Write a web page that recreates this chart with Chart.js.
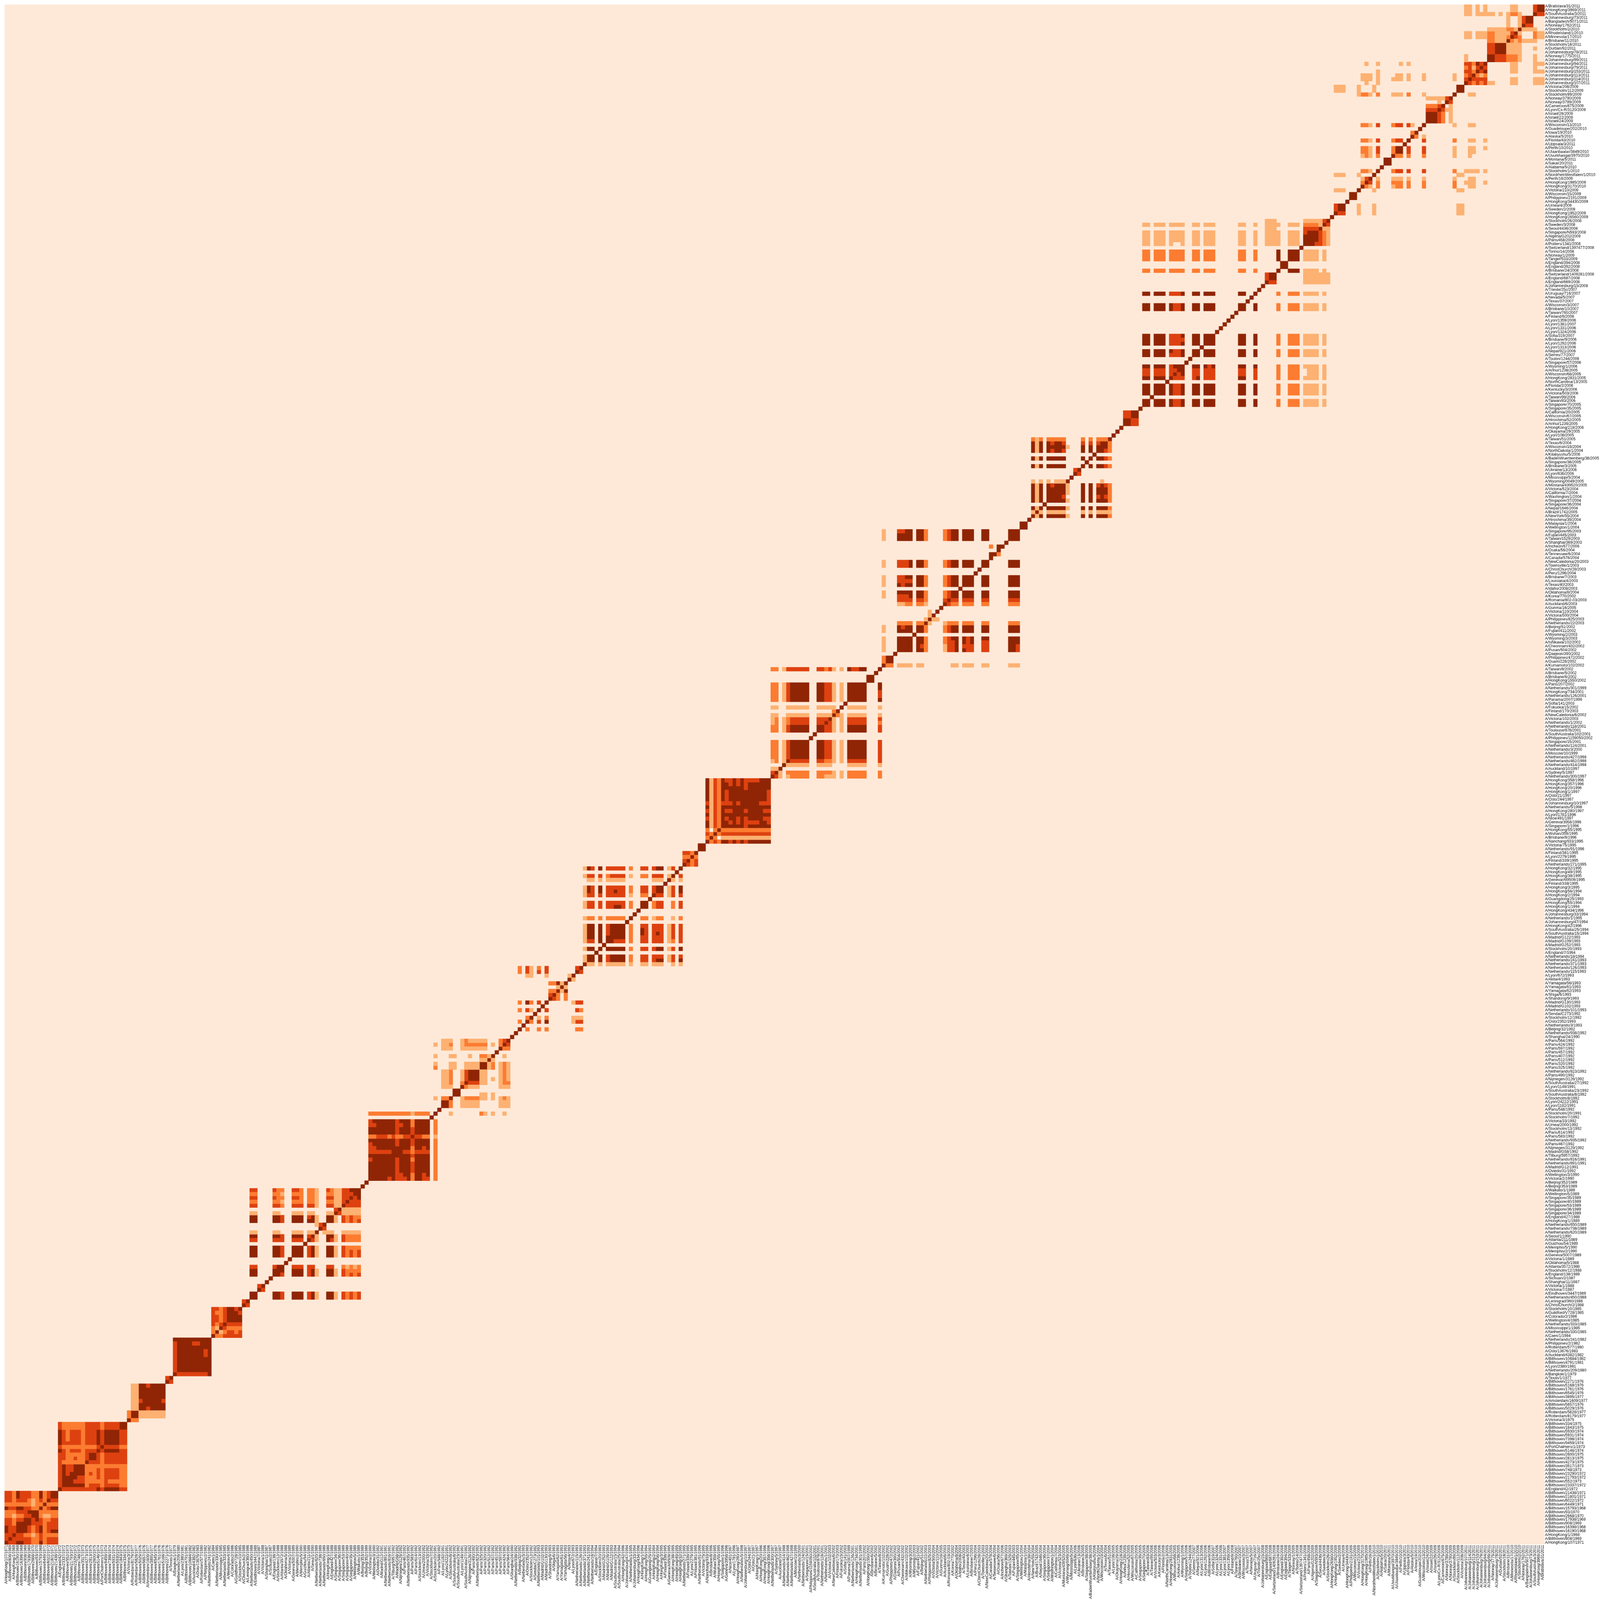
<!DOCTYPE html>
<html>
<head>
<meta charset="utf-8">
<title>Strain heatmap</title>
<script src="https://cdn.jsdelivr.net/npm/chart.js@4"></script>
<style>
    html, body { margin: 0; padding: 0; background: #ffffff; overflow: hidden; }
    canvas { display: block; }
</style>
</head>
<body>
<canvas id="heatmap" width="5000" height="5000"></canvas>
<script>
// strain names, read top to bottom from the right hand axis
const strains = [
'A/Bratislava/31/2011','A/HongKong/3969/2011','A/SouthAustralia/3/2011','A/Johannesburg/73/2011','A/Bangladesh/5071/2011','A/Norway/1762/2011','A/Stockholm/2/2010','A/RhodeIsland/1/2010','A/Minnesota/17/2010','A/Brisbane/11/2010',
'A/Stockholm/18/2011','A/Durban/92/2011','A/Johannesburg/78/2011','A/Norway/1775/2011','A/Johannesburg/99/2011','A/Johannesburg/94/2011','A/Johannesburg/79/2011','A/Johannesburg/153/2011','A/Johannesburg/113/2011','A/Johannesburg/114/2011',
'A/Johannesburg/107/2011','A/Victoria/208/2009','A/Stockholm/112/2009','A/Stockholm/89/2009','A/Norway/3790/2009','A/Norway/3789/2009','A/Cameroon/675/2009','A/Lyon/Cx-R/3120/2009','A/Israel/26/2009','A/Israel/22/2009',
'A/Israel/24/2009','A/Wisconsin/13/2010','A/Guadeloupe/202/2010','A/Iowa/19/2010','A/Alaska/5/2010','A/Florida/43/2010','A/Uppsala/3/2011','A/Perth/10/2010','A/Ulaanbaatar/3849/2010','A/Uvurkhangai/3970/2010',
'A/Montana/5/2011','A/Sakai/20/2011','A/Alabama/5/2010','A/Stockholm/1/2010','A/NordrheinWestfalen/1/2010','A/Perth/16/2009','A/HongKong/1985/2009','A/HongKong/3170/2010','A/Victoria/210/2009','A/Wisconsin/15/2009',
'A/Philippines/2191/2009','A/HongKong/34430/2009','A/Umea/4/2009','A/Sweden/2/2009','A/HongKong/1952/2009','A/HongKong/26560/2009','A/Stockholm/26/2008','A/Sweden/3/2008','A/Seoul/4436/2008','A/Singapore/N593/2008',
'A/Algeria/G202/2009','A/Paris/458/2008','A/Poitiers/1341/2008','A/Switzerland/1397477/2008','A/Torino/14/2008','A/Norway/1/2009','A/Tanger/533/2009','A/England/394/2008','A/England/392/2008','A/Brisbane/24/2008',
'A/Switzerland/1409281/2008','A/England/687/2008','A/England/669/2008','A/Johannesburg/15/2008','A/Trieste/25c/2007','A/Uruguay/716/2007','A/Nevada/5/2007','A/Texas/37/2007','A/Wisconsin/3/2007','A/Brisbane/10/2007',
'A/Taiwan/760/2007','A/Finland/9/2008','A/Lyon/1359/2006','A/Lyon/1381/2007','A/Lyon/1331/2006','A/Lyon/1324/2006','A/Sofia/319/2007','A/Brisbane/9/2006','A/Lyon/1292/2006','A/Lyon/1313/2006',
'A/Nepal/921/2006','A/Serres/77/2007','A/Toulon/1244/2006','A/Singapore/57/2006','A/Wyoming/1/2006','A/Anhui/1238/2005','A/Wisconsin/68/2005','A/HongKong/2831/2005','A/NorthCarolina/13/2005','A/Florida/2/2006',
'A/Kentucky/3/2006','A/Victoria/503/2006','A/Taiwan/99/2006','A/Taiwan/83/2006','A/Singapore/70/2005','A/Singapore/35/2005','A/California/20/2005','A/Wisconsin/67/2005','A/Hiroshima/52/2005','A/Anhui/1239/2005',
'A/HongKong/218/2006','A/Okayama/29/2005','A/Lyon/108/2005','A/Taiwan/51/2005','A/Texas/6/2004','A/Wisconsin/19/2004','A/NorthDakota/1/2004','A/Kitakyushu/5/2006','A/BadenWuerttemberg/38/2005','A/Singapore/38/2005',
'A/Brisbane/3/2005','A/Ukraine/13/2006','A/Lyon/636/2006','A/Mississippi/5/2004','A/Wyoming/0049/2005','A/Montana/439520/2005','A/Victoria/523/2004','A/California/7/2004','A/Washington/1/2004','A/Singapore/37/2004',
'A/Singapore/36/2004','A/Nepal/1646/2004','A/Brazil/1742/2005','A/NewYork/55/2004','A/Hiroshima/39/2004','A/Malaysia/1/2004','A/Wellington/1/2004','A/Singapore/95/2003','A/Fujian/445/2003','A/Taiwan/1529/2003',
'A/Shanghai/369/2003','A/Incheon/677/2006','A/Osaka/56/2004','A/Tennessee/6/2004','A/Canada/578/2004','A/NewCaledonia/20/2003','A/Townsville/1/2003','A/ChristChurch/28/2003','A/Peru/1296/2004','A/Brisbane/7/2003',
'A/Louisiana/4/2003','A/Texas/40/2003','A/Idaho/2008/2003','A/Oklahoma/8/2004','A/Korea/770/2002','A/Romania/802-03/2003','A/Auckland/6/2003','A/Gunma/16/2005','A/Victoria/110/2004','A/Victoria/500/2004',
'A/Philippines/825/2003','A/Netherlands/22/2003','A/Beijing/51/2002','A/Fujian/411/2002','A/Wyoming/2/2003','A/Wyoming/3/2003','A/Ishikawa/102/2002','A/Cheonnam/432/2002','A/Pusan/504/2002','A/Daejeon/390/2002',
'A/Philippines/472/2002','A/Guam/228/2002','A/Kumamoto/102/2002','A/Taiwan/8/2002','A/Brisbane/5/2002','A/Brisbane/6/2002','A/HongKong/1550/2002','A/Paris/207/2002','A/Netherlands/301/1999','A/HongKong/734/2001',
'A/Netherlands/126/2001','A/Panama/2007/1999','A/Sofia/141/2003','A/Fukuoka/15/2002','A/Finland/170/2003','A/NewCaledonia/6/2002','A/Victoria/102/2003','A/Netherlands/1/2002','A/Netherlands/118/2001','A/Toulouse/878/2001',
'A/SouthAustralia/102/2001','A/Philippines/1159050/2002','A/Singapore/15/2001','A/Netherlands/124/2001','A/Netherlands/3/2000','A/Moscow/10/1999','A/Netherlands/427/1998','A/Netherlands/462/1998','A/Netherlands/414/1998','A/Auckland/10/1997',
'A/Sydney/5/1997','A/Netherlands/300/1997','A/HongKong/358/1996','A/HongKong/357/1996','A/HongKong/20/1996','A/HongKong/1/1997','A/Oslo/21/1997','A/Oslo/244/1997','A/Johannesburg/10/1997','A/Netherlands/5/1998',
'A/HongKong/280/1997','A/Lyon/1781/1996','A/Nice/491/1997','A/Geneva/3958/1996','A/Singapore/1/1996','A/HongKong/55/1995','A/Wuhan/359/1995','A/Brisbane/8/1996','A/Nanchang/933/1995','A/Victoria/75/1995',
'A/Netherlands/91/1996','A/Finland/381/1995','A/Lyon/2279/1995','A/Finland/339/1995','A/Netherlands/271/1995','A/HongKong/32/1995','A/HongKong/49/1995','A/HongKong/38/1995','A/Geneva/AI9509/1995','A/Finland/338/1995',
'A/HongKong/3/1995','A/HongKong/56/1994','A/HongKong/2/1994','A/Guangdong/25/1993','A/HongKong/55/1994','A/HongKong/1/1994','A/HongKong/434/1996','A/Johannesburg/33/1994','A/Netherlands/1/1995','A/Johannesburg/47/1994',
'A/HongKong/42/1996','A/SouthAustralia/25/1994','A/SouthAustralia/15/1994','A/Madrid/G122/1993','A/Madrid/G109/1993','A/Madrid/G252/1993','A/Stockholm/20/1993','A/England/7/1994','A/Netherlands/18/1994','A/Netherlands/241/1993',
'A/Netherlands/371/1993','A/Netherlands/126/1993','A/Netherlands/115/1993','A/Lyon/672/1993','A/Akita/4/1993','A/Yamagata/56/1993','A/Yamagata/61/1993','A/Yamagata/62/1993','A/Shiga/6/1993','A/Shandong/9/1993',
'A/Madrid/G130/1993','A/Madrid/G102/1993','A/Netherlands/101/1993','A/Sendai/C273/1992','A/Stockholm/12/1992','A/Oslo/2352/1993','A/Netherlands/3/1993','A/Beijing/32/1992','A/Netherlands/938/1992','A/Shanghai/24/1990',
'A/Paris/564/1992','A/Paris/424/1992','A/Paris/597/1992','A/Paris/457/1992','A/Paris/407/1992','A/Paris/512/1992','A/Paris/320/1992','A/Paris/325/1992','A/Netherlands/823/1992','A/Paris/490/1992',
'A/Nijmegen/3126/1992','A/SouthAustralia/27/1992','A/Lyon/1149/1991','A/SouthAustralia/23/1992','A/SouthAustralia/8/1992','A/Stockholm/8/1992','A/Lyon/24222/1991','A/Lyon/1182/1991','A/Paris/548/1992','A/Stockholm/20/1991',
'A/Stockholm/7/1992','A/Victoria/33/1992','A/Umea/2000/1992','A/Stockholm/13/1992','A/Paris/614/1992','A/Paris/583/1992','A/Netherlands/935/1992','A/Paris/467/1992','A/Nijmegen/3129/1992','A/Madrid/G58/1992',
'A/Tilburg/5957/1992','A/Netherlands/816/1991','A/Netherlands/891/1991','A/Madrid/G12/1991','A/Oviedo/31/1992','A/Wellington/3/1990','A/Victoria/2/1990','A/Beijing/352/1989','A/Beijing/353/1989','A/Waikato/1/1989',
'A/Wellington/5/1989','A/Singapore/35/1989','A/Singapore/40/1989','A/Singapore/53/1989','A/Singapore/36/1989','A/Singapore/34/1989','A/England/427/1988','A/HongKong/1/1989','A/Netherlands/650/1989','A/Netherlands/738/1989',
'A/Netherlands/620/1989','A/Seoul/1/1990','A/Atlanta/211/1989','A/Guizhou/54/1989','A/Memphis/5/1990','A/Memphis/2/1990','A/Geneva/5007/1989','A/Victoria/1/1989','A/Oklahoma/5/1988','A/Atlanta/3572/1988',
'A/Stockholm/12/1988','A/England/138/1989','A/Sichuan/2/1987','A/Shanghai/11/1987','A/Victoria/1/1988','A/Victoria/7/1987','A/Eindhoven/3447/1989','A/Netherlands/450/1988','A/Leningrad/360/1986','A/ChristChurch/2/1988',
'A/Stockholm/10/1985','A/Guildford/V728/1985','A/Colorado/2/1986','A/Wellington/4/1985','A/Netherlands/333/1985','A/Mississippi/1/1985','A/Netherlands/330/1985','A/Caen/1/1984','A/Netherlands/241/1982','A/Philippines/2/1982',
'A/Rotterdam/577/1980','A/Oslo/13676/1983','A/Auckland/4382/1982','A/Bilthoven/10684/1982','A/Bilthoven/4791/1981','A/Lyon/2380/1981','A/Netherlands/209/1980','A/Bangkok/1/1979','A/Texas/1/1977','A/Bilthoven/2271/1976',
'A/Bilthoven/5168/1976','A/Bilthoven/1761/1976','A/Bilthoven/6545/1976','A/Bilthoven/3895/1977','A/Amsterdam/1609/1977','A/Bilthoven/5657/1976','A/Bilthoven/5029/1976','A/Rotterdam/5828/1977','A/Rotterdam/8179/1977','A/Victoria/3/1975',
'A/Bilthoven/334/1975','A/Bilthoven/1843/1975','A/Bilthoven/5930/1974','A/Bilthoven/5931/1974','A/Bilthoven/7398/1974','A/Bilthoven/9459/1974','A/PortChalmers/1/1973','A/Bilthoven/5146/1974','A/Bilthoven/2600/1975','A/Bilthoven/2813/1975',
'A/Bilthoven/4273/1975','A/Bilthoven/3517/1973','A/Bilthoven/748/1973','A/Bilthoven/23290/1972','A/Bilthoven/21793/1972','A/Bilthoven/552/1973','A/Bilthoven/23337/1972','A/England/42/1972','A/Bilthoven/21438/1971','A/Bilthoven/21801/1971',
'A/Bilthoven/6022/1972','A/Bilthoven/6449/1971','A/Bilthoven/15793/1968','A/Bilthoven/93/1970','A/Bilthoven/2668/1970','A/Bilthoven/17938/1969','A/Bilthoven/908/1969','A/Bilthoven/16398/1968','A/Bilthoven/16190/1968','A/HongKong/1/1968',
'A/Bilthoven/808/1969','A/HongKong/107/1971'
];

// the cells, cluster by cluster. [row, row, ..., 'levels from the first column rightwards']
// rows count from the bottom of the picture, columns from the left. The | only group digits for reading.
const cluster0 = [
    [13, 12, '33243332242344'], [11, '33233321232433'], [10, '22222221224222'], [9, '43344332242344'],
    [8, '22233344422222'], [7, '22122334421122'], [6, '33233443432233'], [5, '33244443332333'],
    [4, '43344432342333'], [3, '43344432342344'], [2, '33433221232222'], [1, '34333332232333'], [0, '43344332242333']
];
const cluster14 = [
    [31, 30, '3|222222|3333|2|3333|44'], [29, 28, 27, '4|3|2|333|2|333|4|3|4444|33'], [26, '4|33333|2|333|4|3|4444|33'],
    [25, '3|222222222|3|4|3333|22'], [24, '4|3|2|333|2|333|4|3|4444|33'], [23, '33|22222|3|44|3|2|333333'],
    [22, '33|22|3|22|3|44|3|2|333333'], [21, '3|222222|4|333|2|333333'], [20, '3|4|33|444|22222222222'],
    [19, '3|4|33|444|222|3|2|3333|22'], [18, '3|4|3|4444|2|3|2|3|2|3333|22'], [17, '3|4444|33|222|3|2|3333|22'],
    [16, '3|444|333|22222|3|22222'], [15, '3|444444|2|333|2|3333|22'], [14, '4|333333333|4|3|4444|33']
];
const cluster32 = [
    [41, '0|11|44|3|4444'], [40, 39, 38, '0|11|4444444'], [37, '0|11|3|44444|3'], [36, '0|11|4444444'],
    [35, '0|11|44|3|4444'], [34, 33, '2|44|1111111'], [32, '4|22']
];
const cluster42 = [[43, '34'], [42, '43']];
const cluster44 = [
    [53, '4444444444'], [52, '3|4444|33|444'], [51, '3|444444444'], [50, 49, '3|4444444|3|4'],
    [48, 47, 46, 45, '3|444444444'], [44, '4|33333333|4']
];
const cluster54 = [
    [61, '33|2|3|44|3|4'], [60, '3|22|3|444|3'], [59, 58, '33|2|3|4444'], [57, '3|2|3|4|3333'],
    [56, '2|1|4|3|2222'], [55, '2|4|1|2|33|2|3'], [54, '4|22|33333']
];
const cluster62 = [[63, '34'], [62, '43']];
const cluster64 = [
    [92, '33|0000|322|00|332|0|22|1|00|32|11|33444'],
    [91, '22|0000|221|00|222|0|22|1|00|22|11|33344'],
    [90, '33|0000|322|00|332|0|22|1|00|33|11|33434'],
    [89, '22|0000|221|00|222|0|22|1|00|22|11|34333'],
    [88, '33|0000|332|00|333|0|33|1|00|33|11|43333'],
    [87, '00|0000|000|00|000|0|00|0|00|00|34|11111'],
    [86, '11|0000|110|00|111|0|11|0|00|11|43|11111'],
    [85, '44|0000|443|00|444|0|34|1|00|44|10|32322'],
    [84, '44|0000|443|00|444|0|44|1|00|44|10|32323'],
    [83, '00|0000|000|00|000|0|00|1|34'],
    [82, '00|0000|000|00|000|0|00|0|43'],
    [81, '11|0000|110|00|111|0|11|4|01|11|00|11111'],
    [80, '44|0000|443|00|444|0|34|1|00|44|10|32222'],
    [79, '33|0000|333|00|333|0|43|1|00|43|10|32222'],
    [77, '44|0000|443|00|444|0|34|1|00|44|10|32222'],
    [76, 75, '44|0000|443|00|444|0|34|1|00|44|10|32323'],
    [72, '33|0000|344|00|333|0|33|0|00|33|00|21212'],
    [71, '44|0000|444|00|444|0|34|1|00|44|10|32222'],
    [70, '44|0000|443|00|444|0|34|1|00|44|10|32323'],
    [67, '00|3400'], [66, '00|4300'],
    [65, 64, '44|0000|443|00|444|0|34|1|00|44|10|32323']
];
const cluster95 = [
    [112, '22222222222|1|2222|0|4'],
    [110, '3|444444|3|444|2|4444|0|2'],
    [109, '33|44444|33|44|2|4444|0|2'],
    [108, 107, '4444444|3|444|3|4444|0|2'],
    [106, '22333|2|3|22|33|4|33|22|0|1'],
    [105, '4444444|3|444|3|4444|0|2'],
    [104, '3|444444|3|444|3|4444|0|2'],
    [103, '33|444444444|2|44|3|4|0|2'],
    [102, '333333|444|33|2|3333|0|2'],
    [101, '44444444444|3|4444|0|2'],
    [100, '3|444444|3|444|2|4444|0|2'],
    [99, 98, 97, '4444444|3|444|3|4444|0|2'],
    [96, '4444444|33|44|2|44|3|4|0|2'],
    [95, '44444|3|4|333|4|2|44|33|0|2']
];
const cluster112 = [
    [131, '00111001211111000234'], [130, '10112001222222010243'], [129, '00111001111111000422'],
    [127, '10001100010022140010'], [126, '00000000000011410000'], [125, '10001100111144120121'],
    [124, '20001100111144120121'], [123, 122, '00112001344411000121'], [121, '00112001344411010121'],
    [120, '00112002433311000122'], [119, '00111004211100000111'], [118, '00000440'],
    [117, '00000440000011010000'], [116, '10224001222211010121'], [115, 114, '00442001111100000111'],
    [112, '40001000000021010010']
];
const cluster134 = [
    [150, '20310203000000034'], [149, '20310303000000043'], [148, '00110001000001400'], [147, '00000000000004100'],
    [146, '00000000|22|4|1|4'], [145, '0000000000|1|4|1'], [144, '00000000|22|4|1|4'], [143, '00000000|34|2|0|2'],
    [142, '00000000|43|2|0|2'], [141, '20420304|000000|1|33'], [139, '20310403|000000|0|32'], [137, '00240102|000000|111'],
    [136, '20420304|000000|133'], [134, '40200202|000000|0|22']
];
const cluster151 = [
    [176, '1|43|0|4|0|33333|0|2|00|33|0|3|44|0|1|3|0|4'],
    [174, '1|33|0|3|0|23333|0|1|00|22|0|3|33|0|1|4|0|3'],
    [173, '0|11|0|1|0|11111|0|0|00|00|0|1|11|0|4|1|0|1'],
    [171, '1|43|0|4|0|33333|0|2|00|33|0|3|44|0|1|3|0|4'],
    [170, '1|43|0|4|0|33433|0|2|00|33|0|3|44|0|1|3|0|4'],
    [169, '1|33|0|3|0|33333|0|1|00|22|0|4|33|0|1|3|0|3'],
    [167, '1|33|0|3|0|33333|0|2|00|44|0|2|33|0|0|2|0|3'],
    [166, '1|33|0|3|0|33443|0|2|00|44|0|2|33|0|0|2|0|3'],
    [163, '1|22|0|2|0|22222|0|4|00|22|0|1|22|0|0|1|0|2'],
    [161, '1|44|0|4|0|34444|0|2|00|33|0|3|33|0|1|3|0|3'],
    [160, '1|44|0|4|0|34444|0|2|00|43|0|3|33|0|1|3|0|3'],
    [159, '1|44|0|4|0|34444|0|2|00|43|0|3|43|0|1|3|0|3'],
    [158, '1|44|0|4|0|44444|0|2|00|33|0|3|33|0|1|3|0|3'],
    [157, '1|33|0|4|0|44333|0|2|00|33|0|3|33|0|1|2|0|3'],
    [155, '1|44|0|4|0|44444|0|2|00|33|0|3|44|0|1|3|0|4'],
    [153, '1|44|0|4|0|34444|0|2|00|33|0|3|33|0|1|3|0|3'],
    [152, '1|44|0|4|0|34444|0|2|00|33|0|3|44|0|1|3|0|4'],
    [151, '4|11|0|1|0|11111|0|1|00|11|0|1|11|0|0|1|0|1']
];
const cluster177 = [[180, '3324'], [179, '2242'], [178, '3423'], [177, '4323']];
const cluster181 = [[182, 181, '44']];
// 5 marks the two cells that are paler than the background
const cluster183 = [
    [199, '41324334343333444'], [198, '41324434343444444'], [197, '4132|444444|3|444444'],
    [196, 195, 194, '4132|4|3|4444444444|3'], [193, '3132|333|4|3|44444|333'], [192, '4132|4444444444444'],
    [191, '3132|4|33|444|3|4444|33'], [190, '4132|4444444444444'], [189, '3132|4|3|44|3|4|3|4444|33'],
    [188, '4132|44|3|4|3|4|3333|44|3'], [187, '4132|444444|3|444444'], [186, '2|5|2|4|2222222222222'],
    [185, '3242|3333333333333'], [184, '2|4|2|5|1111111111111'], [183, '4232|44|3|4|3|4|3|444444']
];
const cluster200 = [
    [228, '22|0|1|3|33333|00|33|23|1|0|1|0|43344|000|4'],
    [224, 223, '22|0|1|3|44444|00|44|33|1|0|1|0|44444|000|4'],
    [222, 221, '22|0|1|3|44444|00|44|33|1|0|1|0|44444|000|3'],
    [220, '22|0|1|3|44444|00|44|33|1|0|1|0|44444|000|4'],
    [218, '11|0|0|1|11111|00|11|11|1|0|4|0|11111|000|1'],
    [217, '00|0|0|0|00000|00|00|00|2|4'],
    [216, '11|0|0|1|11111|00|11|11|4|2|1|0|11111|000|1'],
    [215, '12|0|1|2|33333|00|33|34|1|0|1|0|33333|000|3'],
    [214, '12|0|1|2|33333|00|33|43|1|0|1|0|33333|000|2'],
    [213, 212, '22|0|1|3|44444|00|44|33|1|0|1|0|44444|000|3'],
    [209, 208, 207, 206, 205, '22|0|1|3|44444|00|44|33|1|0|1|0|44444|000|3'],
    [204, '12|0|1|4|33333|00|33|22|1|0|1|0|33333|000|3'],
    [203, '00|0|4|1|11111|00|11|11|0|0|0|0|11111|000|1'],
    [202, '11|4'],
    [201, '34|1|0|2|22222|00|22|22|1|0|1|0|22222|000|2'],
    [200, '43|1|0|1|22222|00|22|11|1|0|1|0|22222|000|2']
];
const cluster225 = [[226, 225, '44']];
const cluster229 = [
    [264, '1|000|3344|0|44|2|0000|2|3|44|0|444|00|44|00000|444'],
    [263, 262, '1|000|4444|0|44|2|0000|2|3|44|0|444|00|44|00000|444'],
    [260, '0|000|0000|0|00|0|0000|0|0|00|0|000|00|00|20400'],
    [258, '0|000|0000|0|00|0|0000|0|0|00|0|000|00|00|40200'],
    [256, 255, '1|000|3334|0|44|2|0000|2|3|44|0|444|00|44|00000|444'],
    [252, '1|000|3344|0|44|2|0000|2|3|44|0|444|00|44|00000|444'],
    [251, '1|000|3333|0|44|2|0000|2|3|44|0|444|00|44|00000|444'],
    [250, '1|000|4344|0|44|2|0000|2|3|44|0|444|00|44|00000|444'],
    [248, '1|000|4444|0|44|2|0000|2|3|44|0|444|00|44|00000|444'],
    [247, '1|000|3334|0|44|2|0000|2|3|44|0|444|00|44|00000|444'],
    [246, '0|000|3333|0|33|2|0000|3|4|33|0|333|00|33|00000|333'],
    [245, '0|000|1122|0|22|1|0000|4|3|22|0|222|00|22|00000|222'],
    [243, '0|000|0000|0|00|0|1040'],
    [242, '0|000|0000|0|00|0|1400'],
    [241, '0|000|0000|0|00|1|4110'],
    [240, '0|000|2222|0|22|4|1000|1|2|22|0|222|00|22|00000|222'],
    [239, '1|000|4344|0|44|2|0000|2|3|44|0|444|00|44|00000|444'],
    [238, '1|000|4444|0|44|2|0000|2|3|44|0|444|00|44|00000|444'],
    [236, '1|000|4444|0|44|2|0000|2|3|44|0|434|00|44|00000|444'],
    [235, '1|000|4444|0|44|2|0000|2|3|34|0|434|00|33|00000|444'],
    [234, '1|000|4444|0|43|2|0000|1|3|34|0|333|00|33|00000|443'],
    [233, '1|000|4444|0|44|2|0000|1|3|34|0|433|00|33|00000|443'],
    [231, 230, '2|440'],
    [229, '4|220|1111|0|11|0|0000|0|0|11|0|111|00|11|00000|111']
];
const cluster265 = [[266, 265, '44']];
const cluster268 = [
    [288, '212|0|22222|0|000|2|0|2|0|222|4'],
    [287, '414|0|43443|0|000|3|0|3|0|344|2'],
    [286, '414|0|44444|1|000|4|0|4|0|444|2'],
    [285, '414|0|43443|0|000|4|0|4|0|443|2'],
    [283, '414|0|44444|0|000|4|0|4|0|443|2'],
    [281, '414|0|44444|0|000|4|0|4|0|443|2'],
    [280, '000|0|00000|0|034'],
    [279, '000|0|00000|0|043'],
    [277, '101|0|10111|4|000|0|0|0|0|010|0'],
    [276, '414|0|43444|1|000|4|0|4|0|343|2'],
    [275, 274, '414|0|44444|1|000|4|0|4|0|444|2'],
    [273, '414|0|44443|0|000|4|0|4|0|343|2'],
    [272, '414|0|44444|1|000|4|0|4|0|444|2'],
    [270, '414|0|44444|1|000|4|0|4|0|444|2'],
    [269, '141|0|11111|0|000|1|0|1|0|111|1'],
    [268, '414|0|44444|1|000|4|0|4|0|444|2']
];
const cluster292 = [[295, 294, '3344'], [293, 292, '4433']];
const cluster297 = [
    [345, '00|0|000|0|0000|00|00|0|000|000000|00|00|0|00|111|0|00|000|0|1111|1|3|4'],
    [344, '11|0|111|0|1111|00|11|0|111|000000|11|00|1|00|111|1|00|111|0|2222|1|4|3'],
    [343, '00|0|000|0|0000|00|00|0|000|000000|00|00|0|00|111|0|00|000|0|3333|4|1|1'],
    [342, '11|0|111|0|1111|00|11|0|111|000000|11|00|1|00|111|1|00|111|0|3444|3|2|1'],
    [341, 340, '11|0|111|0|1111|00|11|0|111|000000|11|00|1|00|111|1|00|111|0|4444|3|2|1'],
    [339, '11|0|111|0|1001|00|11|0|111|000000|11|00|1|00|111|1|00|111|0|4443|3|2|1'],
    [337, 336, 335, '22|0|222|0|2222|00|22|0|222|000000|22|00|2|00|000|4|00|444|0|1111|0|1|0'],
    [334, 333, '00|0|000|0|0000|00|00|0|000|000000|00|00|0|00|000|0|44'],
    [332, '22|0|222|0|2222|00|22|0|222|000000|22|00|2|00|000|4|00|444|0|1111|0|1|0'],
    [331, 330, '00|0|000|0|0000|00|00|0|000|000000|00|00|0|00|344|0|00|000|0|1111|1|1|1'],
    [329, '00|0|000|0|0000|00|00|0|000|000000|00|00|0|00|433|0|00|000|0|1111|1|1|1'],
    [326, '44|0|444|0|3334|00|44|0|444|000000|44|00|4|00|000|2|00|222|0|1111|0|1|0'],
    [323, 322, '44|0|444|0|4334|00|44|0|444|000000|44|00|4|00|000|2|00|222|0|1111|0|1|0'],
    [315, '44|0|444|0|3334|00|44|0|444|000000|44|00|4|00|000|2|00|222|0|1111|0|1|0'],
    [314, '44|0|444|0|3333|00|44|0|444|000000|44|00|4|00|000|2|00|222|0|1111|0|1|0'],
    [313, '44|0|444|0|3334|00|44|0|444|000000|44|00|4|00|000|2|00|222|0|1111|0|1|0'],
    [311, '44|0|444|0|4334|00|44|0|444|000000|44|00|4|00|000|2|00|222|0|1111|0|1|0'],
    [310, '44|0|444|0|3334|00|44|0|444|000000|44|00|4|00|000|2|00|222|0|1111|0|1|0'],
    [307, '44|0|444|0|3444|00|44|0|434|000000|44|00|4|00|000|2|00|222|0|1111|0|1|0'],
    [306, '33|0|333|0|3344|00|33|0|333|000000|33|00|3|00|000|2|00|222|0|0111|0|1|0'],
    [305, '33|0|333|0|3434|00|33|0|333|000000|33|00|3|00|000|2|00|222|0|0111|0|1|0'],
    [304, '44|0|444|0|4333|00|34|0|333|000000|44|00|3|00|000|2|00|222|0|1111|0|1|0'],
    [302, 301, 300, '44|0|444|0|4334|00|44|0|444|000000|44|00|4|00|000|2|00|222|0|1111|0|1|0'],
    [298, 297, '44|0|444|0|4334|00|44|0|444|000000|44|00|4|00|000|2|00|222|0|1111|0|1|0']
];
const cluster347 = [
    [386, '000|0|00|0|010|0|1|0|00|001|0|1|000|0|00000|00|0|00|332|434|00|000|0110|000|111'],
    [385, '000|0|00|0|000|0|0|0|00|000|0|0|000|0|00000|00|0|00|231|343|00|000|0110|000|100'],
    [384, '000|0|00|0|000|0|1|0|00|000|0|0|000|0|00000|00|0|00|332|434|00|000|0110|000|111'],
    [383, '000|0|00|0|111|0|1|0|00|011|0|1|000|1|00000|00|1|00|234|212'],
    [382, '000|0|00|0|111|0|1|0|00|111|0|1|000|1|00000|00|1|00|343|333|00|000|0110|000|111'],
    [381, '000|0|00|0|010|0|1|0|00|000|0|0|000|0|00000|00|0|00|432|323|11|000|0110|000|111'],
    [380, 379, '111|0|00|1|000|1|0|0|00|000|0|0|000|0|00000|00|0|44'],
    [378, '000|0|00|1|221|0|2|0|00|111|0|2|000|1|00000|00|4|00|011'],
    [377, '000|0|00|0|000|0|0|0|00|000|0|0|000|0|11111|34'],
    [376, '000|0|00|0|000|0|0|0|00|000|0|0|000|0|00010|43'],
    [375, '000|0|00|0|000|0|0|0|00|000|0|0|000|0|22234|01'],
    [374, '000|0|00|0|000|0|0|0|00|000|0|0|000|0|33343|11'],
    [373, 372, 371, '000|0|00|0|000|0|0|0|00|000|0|0|000|0|44432|01'],
    [370, '000|0|00|0|221|0|3|0|00|233|0|3|100|4|00000|00|1|00|011'],
    [368, '000|0|00|0|000|0|0|0|00|000|0|0|240'],
    [367, '000|0|00|0|000|0|0|0|00|000|0|0|420|1'],
    [366, '000|0|00|0|221|0|3|0|00|233|0|4|000|3|00000|00|2|00|011|001'],
    [364, '000|0|00|0|221|0|3|0|00|244|0|3|000|3|00000|00|1|00|011|001'],
    [363, '000|0|00|0|221|0|3|0|00|244|0|3|000|3|00000|00|1|00|011'],
    [362, '000|0|00|0|121|0|2|0|00|422|0|2|000|2|00000|00|1|00|010'],
    [361, 360, '000|0|00|0|000|0|0|0|44'],
    [358, '000|0|00|0|221|0|4|0|00|233|0|3|000|3|00000|00|2|00|111|101'],
    [357, '111|0|00|1|000|4|0|0|00|000|0|0|000|0|00000|00|0|11'],
    [356, '000|0|00|0|134|0|1|0|00|111|0|1|000|1|00000|00|1|00|011'],
    [355, '000|0|00|0|243|0|2|0|00|222|0|2|000|2|00000|00|2|00|111|001'],
    [354, '000|0|00|0|421|0|2|0|00|122|0|2|000|2|00000|00|2|00|011'],
    [353, '111|0|00|4|000|1|0|0|00|000|0|0|000|0|00000|00|0|11'],
    [352, 351, '000|0|44'],
    [349, 348, '344|0|00|1|000|1|0|0|00|000|0|0|000|0|00000|00|0|11'],
    [347, '433|0|00|1|000|1|0|0|00|000|0|0|000|0|00000|00|0|11']
];
const cluster381 = [
    [401, 400, '110|101|00|000|0110|000|344'],
    [399, '110|111|11|010|1221|000|433'],
    [398, 397, '000|000|00|000|1001|344'],
    [396, '000|000|00|000|1001|433'],
    [395, '000|000|11|111|2214|111|100'],
    [394, '110|111|22|111|1341|000|211'],
    [393, '110|111|22|111|2432|000|211'],
    [392, '000|000|22|111|4212|111|100'],
    [391, 389, '000|000|33|444|1111'],
    [390, '000|000|33|444|1111|000|100'],
    [388, 387, '100|000|44|333|2221|000|100']
];

const clusterStarts = [0, 14, 32, 42, 44, 54, 62, 64, 95, 112, 134, 151, 177, 181, 183, 200, 225, 229, 265, 268, 292, 297, 347, 381];
const clusterRows = [cluster0, cluster14, cluster32, cluster42, cluster44, cluster54, cluster62, cluster64, cluster95, cluster112,
    cluster134, cluster151, cluster177, cluster181, cluster183, cluster200, cluster225, cluster229, cluster265, cluster268,
    cluster292, cluster297, cluster347, cluster381];

const levelColors = ['#fee9d8', '#fdb172', '#fc7c31', '#de4110', '#8f2505', '#fff4ea'];

// fill the level table, the diagonal is always the darkest
const size = strains.length;
const levels = [];
for (let c = 0; c < size; c++) {
    levels.push(new Array(size).fill(0));
    levels[c][c] = 4;
}
clusterRows.forEach((cluster, n) => {
    cluster.forEach(entry => {
        const digits = entry[entry.length - 1].replace(/\|/g, '');
        entry.slice(0, -1).forEach(row => {
            for (let k = 0; k < digits.length; k++) {
                const col = clusterStarts[n] + k;
                if (digits[k] !== '0' && col < size) levels[col][row] = Number(digits[k]);
            }
        });
    });
});

const columnLabels = [...strains].reverse();

// each column becomes floating bars, one per run of equal level
const datasets = levelColors.map((color, level) => ({
    label: 'level ' + level,
    backgroundColor: color,
    data: [],
    grouped: false,
    barPercentage: 1,
    categoryPercentage: 1,
    borderWidth: 0,
    inflateAmount: 0.5,
    order: level === 0 ? 10 : 1
}));
for (let c = 0; c < size; c++) {
    datasets[0].data.push({ x: columnLabels[c], y: [0, size] });
    let r = 0;
    while (r < size) {
        const level = levels[c][r];
        let end = r + 1;
        while (end < size && levels[c][end] === level) end++;
        if (level !== 0) datasets[level].data.push({ x: columnLabels[c], y: [r, end] });
        r = end;
    }
}

const tickFont = { family: 'Liberation Sans', size: 12 };

// the drawing is 5000 wide, make the canvas fill the window whatever its css size is
const canvas = document.getElementById('heatmap');
canvas.style.width = window.innerWidth + 'px';
canvas.style.height = window.innerHeight + 'px';

new Chart(canvas.getContext('2d'), {
    type: 'bar',
    data: { labels: columnLabels, datasets: datasets },
    options: {
        responsive: false,
        animation: false,
        devicePixelRatio: 1,
        events: [],
        layout: { padding: { left: 14, top: 14, right: 0, bottom: 0 } },
        plugins: { legend: { display: false }, tooltip: { enabled: false } },
        scales: {
            x: {
                type: 'category',
                offset: true,
                grid: { display: false, drawTicks: false },
                border: { display: false },
                afterFit: axis => { axis.height = 173; },
                ticks: { autoSkip: false, maxRotation: 90, minRotation: 90, padding: 1, color: '#000000', font: tickFont }
            },
            y: {
                type: 'linear',
                display: false,
                min: 0,
                max: size
            },
            names: {
                type: 'category',
                axis: 'y',
                position: 'right',
                labels: strains,
                offset: true,
                grid: { display: false, drawTicks: false },
                border: { display: false },
                afterFit: axis => { axis.width = 173; },
                ticks: { autoSkip: false, padding: 1, color: '#000000', font: tickFont }
            }
        }
    }
});
</script>
</body>
</html>
